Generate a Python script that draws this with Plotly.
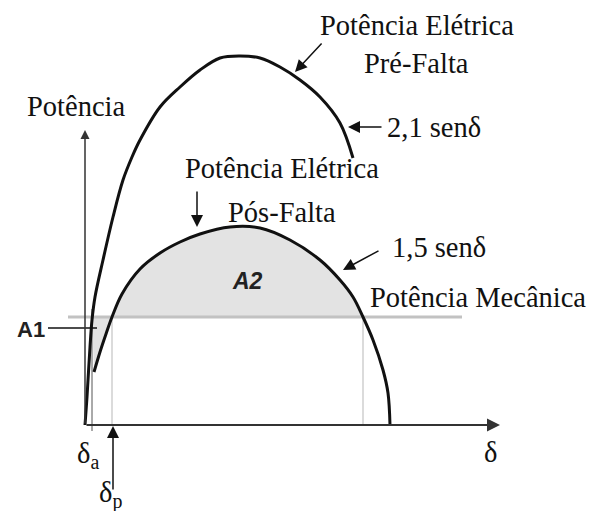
import plotly.graph_objects as go

# Power-angle curves (schematic units: delta along x, power along y)
pre_delta = [0, 2, 5, 7, 10, 18, 28, 38, 47, 55, 75, 95, 115, 135, 155, 175, 195, 215, 235, 255, 268]
pre_power = [0, 28, 78, 105, 128, 165, 208, 245, 268, 285, 318, 338, 355, 367, 369, 367, 358, 345, 328, 302, 267]

post_delta = [9, 15, 21, 27, 37, 55, 75, 95, 115, 145, 175, 205, 235, 255, 268, 278, 288, 298, 303, 305]
post_power = [53, 73, 91, 108, 131, 156, 172, 183, 191, 198, 197, 185, 165, 145, 128, 108, 85, 55, 32, 0]

# Mechanical power level and characteristic angles
P_MEC = 108
DELTA_A = 7
DELTA_P = 27
DELTA_MAX = 278
MEC_LINE = [-17, 377]

X_RANGE = [-85, 510]
Y_RANGE = [-86, 425]

SERIF = "Times New Roman, Liberation Serif, DejaVu Serif, serif"
SANS = "Arial, Liberation Sans, sans-serif"
FS = 28.5

fig = go.Figure()

# Area A2 (deceleration): post-fault curve above the mechanical power
a2_x = [d for d, p in zip(post_delta, post_power) if p >= P_MEC]
a2_y = [p for p in post_power if p >= P_MEC]
fig.add_trace(go.Scatter(x=a2_x, y=a2_y, fill="toself", fillcolor="#e3e3e3",
                         line=dict(width=0), mode="lines", hoverinfo="skip"))

# Area A1 (acceleration): below the mechanical power, right of delta_a
a1_pts = [(d, p) for d, p in zip(post_delta, post_power) if d <= DELTA_P and p <= P_MEC]
a1_x = [d for d, _ in a1_pts] + [DELTA_A, DELTA_A]
a1_y = [p for _, p in a1_pts] + [a1_pts[-1][1], P_MEC]
fig.add_trace(go.Scatter(x=a1_x, y=a1_y, fill="toself", fillcolor="#e3e3e3",
                         line=dict(width=0), mode="lines", hoverinfo="skip"))

# Mechanical power line
fig.add_trace(go.Scatter(x=MEC_LINE, y=[P_MEC, P_MEC], mode="lines",
                         line=dict(color="#c2c2c2", width=3), hoverinfo="skip"))

# Vertical markers at delta_p and delta_max
for d in (DELTA_P, DELTA_MAX):
    fig.add_trace(go.Scatter(x=[d, d], y=[0, P_MEC], mode="lines",
                             line=dict(color="#cfcfcf", width=1.5), hoverinfo="skip"))
# delta_a marker
fig.add_trace(go.Scatter(x=[DELTA_A, DELTA_A], y=[-6, P_MEC + 8], mode="lines",
                         line=dict(color="#555555", width=1), hoverinfo="skip"))

# Power curves
fig.add_trace(go.Scatter(x=pre_delta, y=pre_power, mode="lines",
                         line=dict(color="#111111", width=3, shape="spline"), hoverinfo="skip"))
fig.add_trace(go.Scatter(x=post_delta, y=post_power, mode="lines",
                         line=dict(color="#111111", width=3, shape="spline"), hoverinfo="skip"))

# A1 pointer line
fig.add_shape(type="line", x0=-37, y0=97, x1=12, y1=97,
              line=dict(color="#111111", width=1.5))

def arrow(head, tail, width=1.5, color="#111111", size=1.6):
    fig.add_annotation(x=head[0], y=head[1], ax=tail[0], ay=tail[1],
                       xref="x", yref="y", axref="x", ayref="y",
                       text="", showarrow=True, arrowhead=2, arrowsize=size,
                       arrowwidth=width, arrowcolor=color)

# Axes
arrow((415, 0), (0, 0), width=2, color="#333333", size=1.3)
arrow((0, 295), (0, 0), width=1.5, color="#333333", size=1.2)

# Label pointers
arrow((210, 353), (238, 383))
arrow((263, 298), (298, 298))
arrow((112, 198), (112, 235))
arrow((258, 155), (295, 175))
arrow((28, -1), (28, -66))

def label(x, y, text, xanchor="center", font=SERIF, size=FS, color="#111111"):
    fig.add_annotation(x=x, y=y, xref="x", yref="y", text=text, showarrow=False,
                       xanchor=xanchor, yanchor="middle",
                       font=dict(family=font, size=size, color=color))

label(332, 400, "Potência Elétrica")
label(331, 362, "Pré-Falta")
label(300, 298, "2,1 senδ", xanchor="left")
label(-60, 319, "Potência", xanchor="left")
label(197, 257, "Potência Elétrica")
label(197, 213, "Pós-Falta")
label(305, 178, "1,5 senδ", xanchor="left")
label(283, 128, "Potência Mecânica", xanchor="left")
label(-70, 96, "<b>A1</b>", xanchor="left", font=SANS, size=22, color="#222222")
label(162, 144, "<b><i>A2</i></b>", font=SANS, size=23, color="#222222")
label(-10, -30, "δ<sub>a</sub>", xanchor="left")
label(12, -70, "δ<sub>p</sub>", xanchor="left")
label(405, -27, "δ")

fig.update_layout(
    width=595, height=511,
    margin=dict(l=0, r=0, t=0, b=0),
    paper_bgcolor="white", plot_bgcolor="white",
    showlegend=False,
    xaxis=dict(range=X_RANGE, visible=False, fixedrange=True),
    yaxis=dict(range=Y_RANGE, visible=False, fixedrange=True),
)

fig.write_html("out.html")
